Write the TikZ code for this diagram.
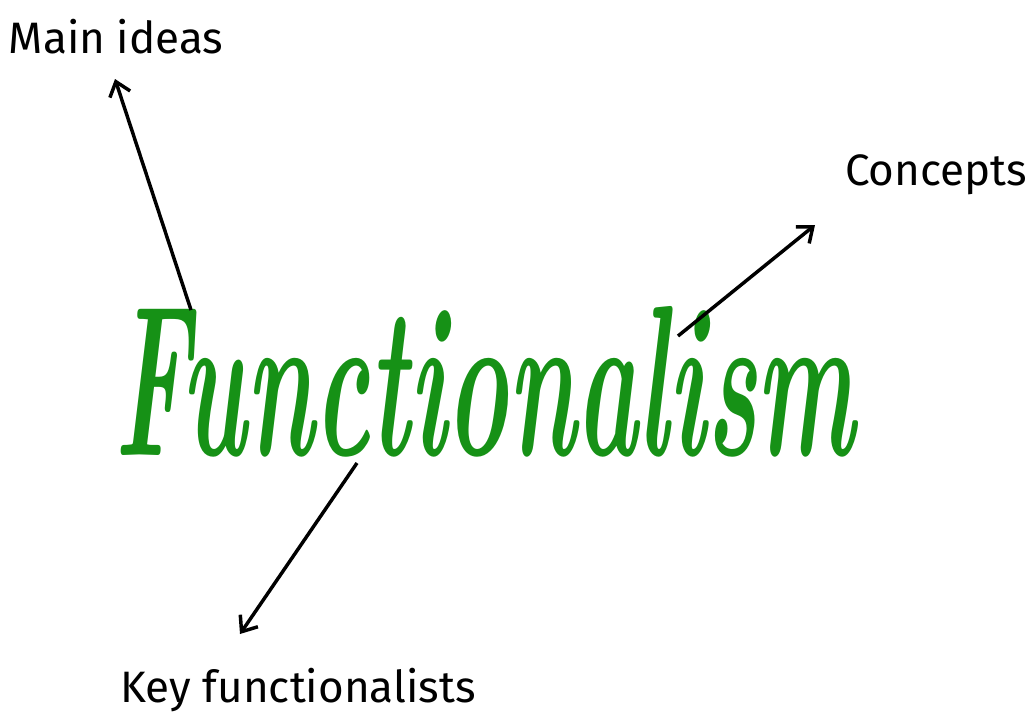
\documentclass[tikz,border=0pt]{standalone}
\usepackage{fontspec}
\setmainfont{Latin Modern Roman}
\newfontfamily\handfont{Fira Sans}
\usetikzlibrary{arrows.meta}
\definecolor{fgreen}{RGB}{22,145,22}
\tikzset{
  lbl/.style={font=\handfont\fontsize{33}{36}\selectfont, text=black, inner sep=0pt},
  title/.style={text=fgreen, inner sep=0pt},
  pointer/.style={draw=black, line width=2.6pt, -{Straight Barb[length=10pt,width=16pt,line width=2.6pt]}}
}
\begin{document}
\begin{tikzpicture}[x=0.75pt,y=-0.75pt]
\useasboundingbox (0,0) rectangle (1031,714);
\node[title] (func) at (485,382) {\resizebox{555pt}{112pt}{\bfseries\itshape Functionalism}};
\node[lbl] (main) at (116,37) {Main ideas};
\node[lbl] (conc) at (936,175) {Concepts};
\node[lbl] (key) at (298,690) {Key functionalists};
\coordinate (s1) at (191,310);
\coordinate (e1) at (115,79);
\coordinate (s2) at (678,336);
\coordinate (e2) at (815,225);
\coordinate (s3) at (357,463);
\coordinate (e3) at (240,634);
\draw[pointer] (s1) -- (e1);
\draw[pointer] (s2) -- (e2);
\draw[pointer] (s3) -- (e3);
\end{tikzpicture}
\end{document}
